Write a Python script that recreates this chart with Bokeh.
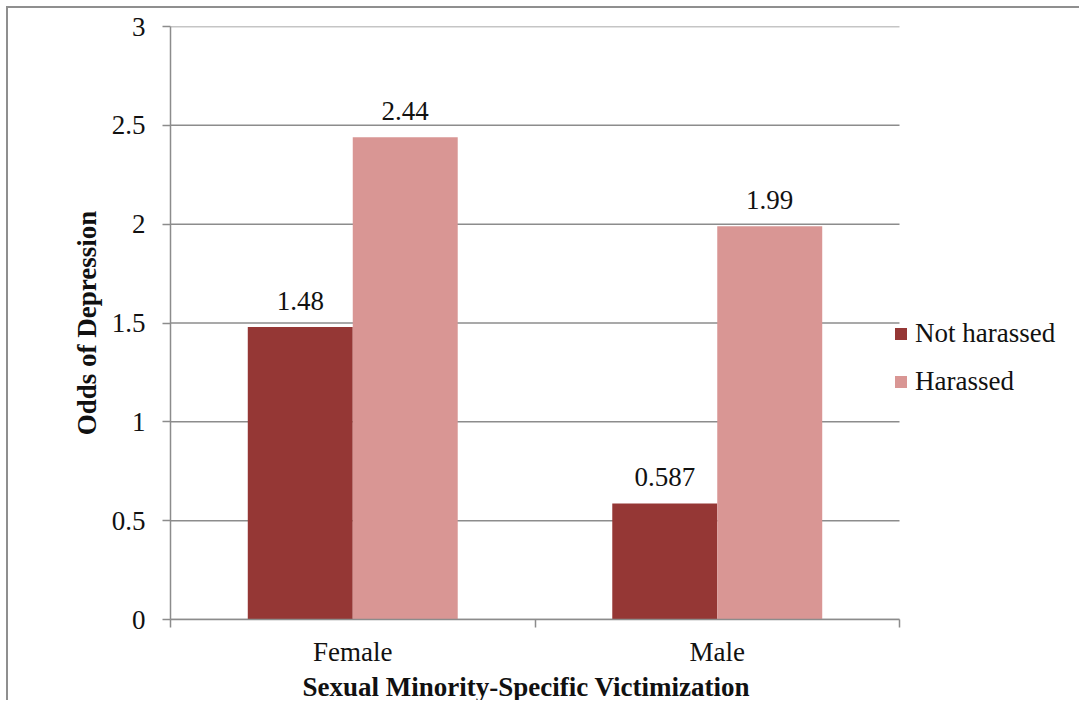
from bokeh.plotting import figure
from bokeh.models import FixedTicker, Legend, LegendItem, ColumnDataSource, Title
from bokeh.core.properties import value
from bokeh.embed import file_html
from bokeh.resources import INLINE

categories = ["Female", "Male"]
not_harassed = [1.48, 0.587]
harassed = [2.44, 1.99]
y_ticks = [0, 0.5, 1, 1.5, 2, 2.5, 3]
y_tick_labels = ["0", "0.5", "1", "1.5", "2", "2.5", "3"]
series_names = ["Not harassed", "Harassed"]
colors = ["#953735", "#D99694"]
x_title = "Sexual Minority-Specific Victimization"
y_title = "Odds of Depression"

FONT = "Liberation Serif"
GRAY = "#8c8c8c"
BAR_W = 0.288

W, H = 1073, 694
LEFT = 162
FRAME_W = W - LEFT
PLOT_W = 729  # pixels used by the two categories
n = len(categories)
x_end = n * FRAME_W / PLOT_W

p = figure(width=W, height=H, x_range=(0, x_end), y_range=(0, 3),
           output_backend="svg", toolbar_location=None,
           min_border_left=LEFT, min_border_right=0, min_border_top=18, min_border_bottom=83)
p.styles = {"margin-left": "6px", "margin-top": "6px",
            "border-left": "2px solid #8f8f8f", "border-top": "2px solid #8f8f8f"}
p.outline_line_color = None
p.background_fill_color = "white"
p.border_fill_color = "white"

# horizontal gridlines limited to the category span
p.segment(x0=[0] * len(y_ticks), x1=[n] * len(y_ticks), y0=y_ticks, y1=y_ticks,
          line_color=GRAY, line_width=1.5, level="underlay")

centers = [i + 0.5 for i in range(n)]
src = ColumnDataSource(dict(
    x1=[c - BAR_W / 2 for c in centers], x2=[c + BAR_W / 2 for c in centers],
    nh=not_harassed, h=harassed,
    nh_t=[str(v) for v in not_harassed], h_t=[str(v) for v in harassed],
))

r1 = p.vbar(x="x1", top="nh", width=BAR_W, bottom=0, source=src, fill_color=colors[0], line_color=None)
r2 = p.vbar(x="x2", top="h", width=BAR_W, bottom=0, source=src, fill_color=colors[1], line_color=None)

for xcol, ycol, tcol in (("x1", "nh", "nh_t"), ("x2", "h", "h_t")):
    p.text(x=xcol, y=ycol, text=tcol, source=src, text_align="center", text_baseline="bottom",
           y_offset=-17, text_font=value(FONT), text_font_size="27px", text_color="#111111")

# y axis
ya = p.yaxis[0]
ya.ticker = FixedTicker(ticks=y_ticks)
ya.major_label_overrides = {t: l for t, l in zip(y_ticks, y_tick_labels)}
ya.major_tick_out = 8
ya.major_tick_in = 0
ya.minor_tick_out = 0
ya.minor_tick_in = 0
ya.axis_line_color = GRAY
ya.axis_line_width = 1.5
ya.major_tick_line_color = GRAY
ya.major_tick_line_width = 1.5
ya.major_label_text_font = FONT
ya.major_label_text_font_size = "27px"
ya.major_label_text_color = "#111111"
ya.major_label_standoff = 17
ya.axis_label = y_title
ya.axis_label_text_font = FONT
ya.axis_label_text_font_style = "bold"
ya.axis_label_text_font_size = "27px"
ya.axis_label_text_color = "#111111"
ya.axis_label_standoff = 7

# x axis
xa = p.xaxis[0]
xa.bounds = (0, n)
xa.ticker = FixedTicker(ticks=centers, minor_ticks=list(range(n + 1)))
xa.major_label_overrides = {c: nm for c, nm in zip(centers, categories)}
xa.major_tick_out = 0
xa.major_tick_in = 0
xa.minor_tick_out = 8
xa.minor_tick_in = 0
xa.minor_tick_line_color = GRAY
xa.minor_tick_line_width = 1.5
xa.axis_line_color = GRAY
xa.axis_line_width = 1.5
xa.major_label_text_font = FONT
xa.major_label_text_font_size = "27px"
xa.major_label_text_color = "#111111"
xa.major_label_standoff = 9

# x axis title, centred on the category span
xt = Title(text=x_title, align="left", offset=132, standoff=0,
           text_font=FONT, text_font_style="bold", text_font_size="27px", text_color="#111111")
p.add_layout(xt, "below")

p.xgrid.visible = False
p.ygrid.visible = False

legend = Legend(items=[LegendItem(label=series_names[0], renderers=[r1]),
                       LegendItem(label=series_names[1], renderers=[r2])],
                location=(723, 222), orientation="vertical")
legend.border_line_color = None
legend.background_fill_alpha = 0
legend.padding = 0
legend.margin = 0
legend.glyph_width = 15
legend.glyph_height = 15
legend.label_standoff = 7
legend.spacing = 17
legend.label_text_font = FONT
legend.label_text_font_size = "27px"
legend.label_text_color = "#111111"
p.add_layout(legend)

open("out.html", "w").write(file_html(p, INLINE))
